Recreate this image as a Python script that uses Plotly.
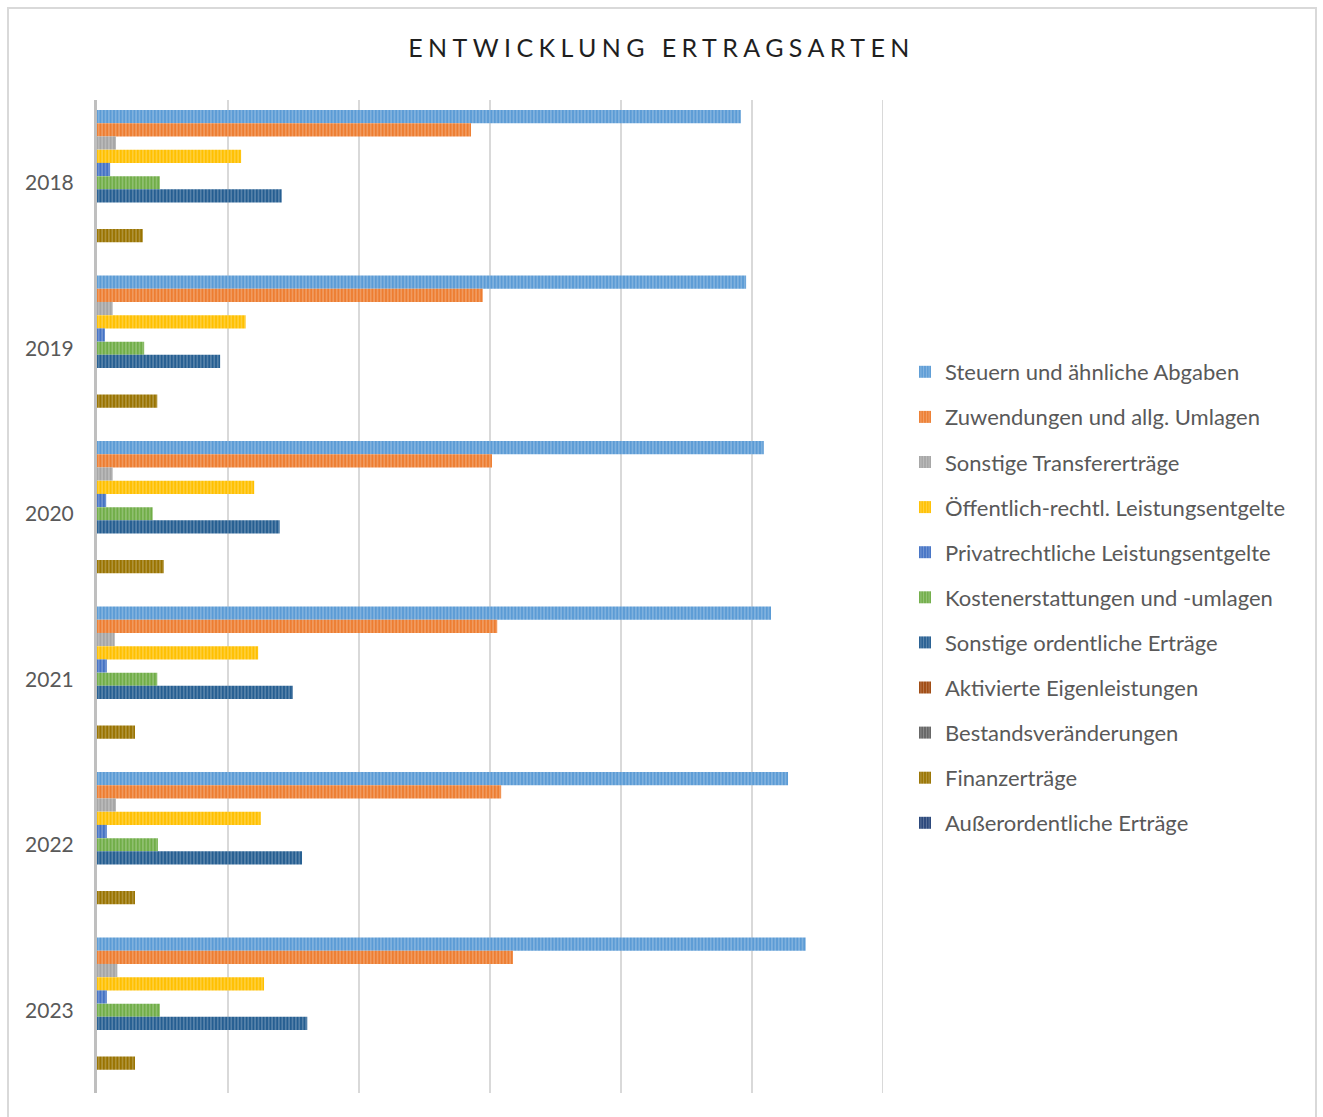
import plotly.graph_objects as go

years = ["2018", "2019", "2020", "2021", "2022", "2023"]

series_names = [
    "Steuern und ähnliche Abgaben",
    "Zuwendungen und allg. Umlagen",
    "Sonstige Transfererträge",
    "Öffentlich-rechtl. Leistungsentgelte",
    "Privatrechtliche Leistungsentgelte",
    "Kostenerstattungen und -umlagen",
    "Sonstige ordentliche Erträge",
    "Aktivierte Eigenleistungen",
    "Bestandsveränderungen",
    "Finanzerträge",
    "Außerordentliche Erträge",
]

steuern = [98.3, 99.1, 101.8, 102.9, 105.5, 108.2]
zuwendungen = [57.1, 58.9, 60.3, 61.1, 61.7, 63.5]
sonst_transfer = [2.9, 2.4, 2.4, 2.7, 2.9, 3.1]
oeffentlich = [22.0, 22.7, 24.0, 24.6, 25.0, 25.5]
privat = [2.0, 1.2, 1.4, 1.5, 1.5, 1.5]
kosten = [9.6, 7.2, 8.5, 9.2, 9.3, 9.6]
sonst_ordentl = [28.2, 18.8, 27.9, 29.9, 31.3, 32.1]
aktivierte = [0, 0, 0, 0, 0, 0]
bestand = [0, 0, 0, 0, 0, 0]
finanz = [7.0, 9.2, 10.2, 5.8, 5.8, 5.8]
ausserordentl = [0, 0, 0, 0, 0, 0]

values = [steuern, zuwendungen, sonst_transfer, oeffentlich, privat, kosten,
          sonst_ordentl, aktivierte, bestand, finanz, ausserordentl]

colors = ["#5B9BD5", "#ED7D31", "#A5A5A5", "#FFC000", "#4472C4", "#70AD47",
          "#255E91", "#9E480E", "#636363", "#997300", "#264478"]

x_max = 120

fig = go.Figure()
for i, (name, vals, col) in enumerate(zip(series_names, values, colors)):
    fig.add_trace(go.Bar(
        y=years, x=vals, name=name, orientation="h",
        legendgroup=f"g{i}",
        marker=dict(color=col, line=dict(width=0),
                    pattern=dict(shape="|", fgcolor="rgba(255,255,255,0.55)",
                                 bgcolor=col, size=3.4, solidity=0.4, fillmode="overlay")),
    ))

L, R, T, B = 97, 883, 100, 1093
W, H = 1323, 1117
pw, ph = R - L, B - T

def px(x):
    return (x - L) / pw

def py(y):
    return (B - y) / ph

fig.update_layout(
    width=W, height=H,
    margin=dict(l=L, r=W - R, t=T, b=H - B, autoexpand=False),
    paper_bgcolor="white", plot_bgcolor="white",
    barmode="group", bargap=0.12, bargroupgap=0,
    font=dict(family="Lato, Carlito, sans-serif", color="#595959"),
    title=dict(text="ENTWICKLUNG ERTRAGSARTEN", x=0.5, xanchor="center",
               y=1 - 48 / H, yanchor="middle",
               font=dict(size=25, color="#1F1F1F", family="Lato, sans-serif")),
    showlegend=True,
    legend=dict(x=px(905), xanchor="left", y=py(351), yanchor="top",
                font=dict(size=22, color="#595959"),
                traceorder="grouped", tracegroupgap=13.5,
                itemwidth=30, bgcolor="rgba(0,0,0,0)"),
    xaxis=dict(range=[0, x_max], dtick=20, showticklabels=False, showgrid=True,
               gridcolor="#D9D9D9", gridwidth=2, zeroline=False, showline=False,
               fixedrange=True),
    yaxis=dict(autorange="reversed", showgrid=False, showline=True,
               linecolor="#BFBFBF", linewidth=3, ticks="", ticklabelstandoff=16,
               tickfont=dict(size=21, color="#595959"), zeroline=False),
    shapes=[dict(type="rect", xref="paper", yref="paper",
                 x0=px(8), x1=px(1316), y0=py(1130), y1=py(8),
                 line=dict(color="#D9D9D9", width=2), fillcolor="rgba(0,0,0,0)",
                 layer="below"),
            dict(type="line", xref="x", yref="paper", x0=x_max, x1=x_max, y0=0, y1=1,
                 line=dict(color="#D9D9D9", width=2), layer="below")],
)

post = """
var t = document.querySelectorAll('.gtitle');
t.forEach(function(e){ e.style.letterSpacing = '5.4px'; });
"""
fig.write_html("out.html", post_script=post)
